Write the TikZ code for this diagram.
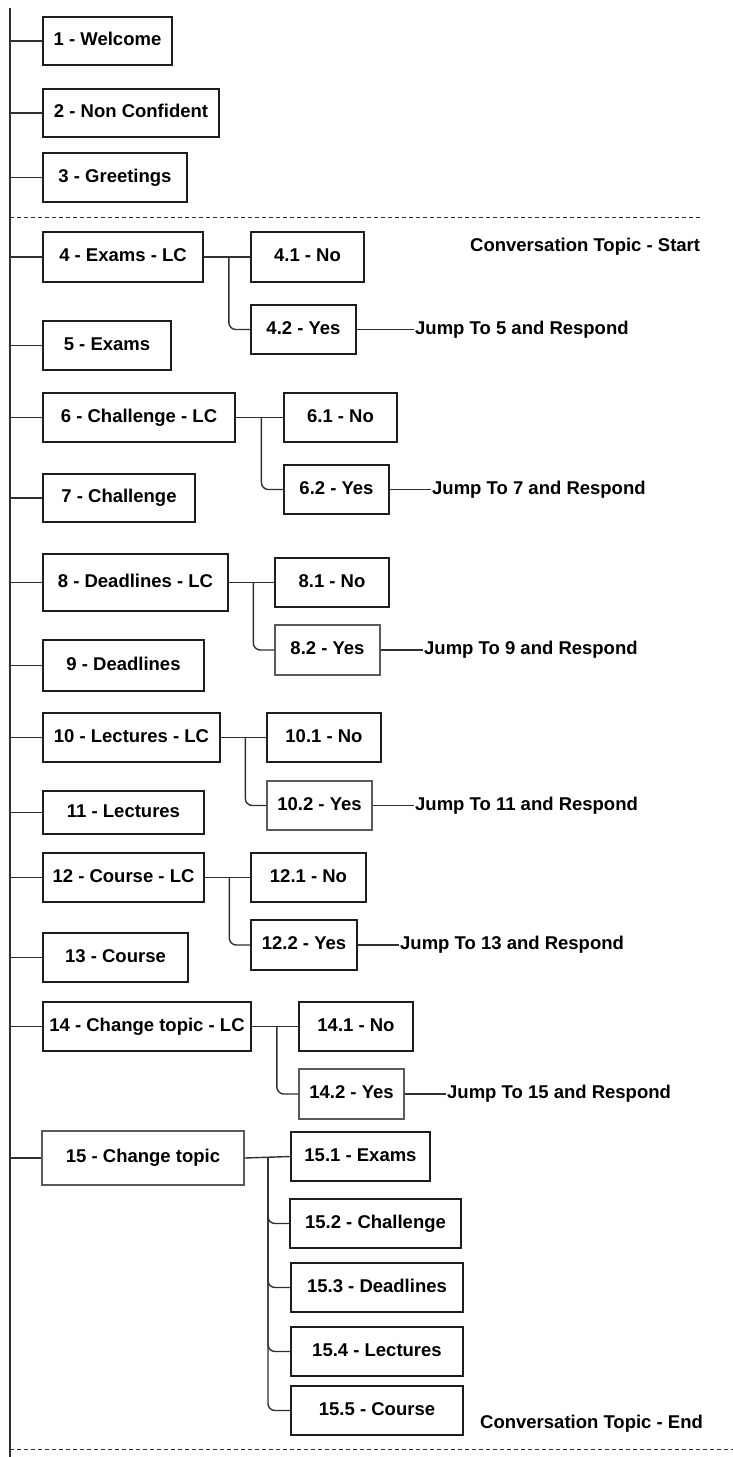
\documentclass[tikz,border=0pt]{standalone}
\usepackage{fontspec}
\setmainfont{Liberation Sans}
\usetikzlibrary{calc}
\definecolor{boxline}{HTML}{1E1E1E}
\definecolor{softline}{HTML}{5A5A5A}
\definecolor{wireline}{HTML}{303030}
\newcommand\bx[7][box]{%
  \node[#1,minimum width={#5-#3},minimum height={#6-#4}] (#2) at ({(#3+#5)/2},{(#4+#6)/2}) {#7};}
\begin{document}
\begin{tikzpicture}[x=1pt,y=-1pt,
  labelfont/.style={font=\fontsize{18.5}{22}\selectfont\bfseries,text height=13pt,text depth=4pt},
  box/.style={draw=boxline,line width=1.5pt,inner sep=0pt,labelfont},
  softbox/.style={box,draw=softline},
  note/.style={inner sep=1pt,labelfont,anchor=west},
  wire/.style={draw=wireline,line width=1.4pt},
  branch/.style={wire,rounded corners=7pt},
  divider/.style={draw=wireline,line width=1pt,dash pattern=on 4pt off 3pt}]
\useasboundingbox (0,0) rectangle (733,1457);

% main spine
\coordinate (spinetop) at (10,8);
\coordinate (spinebot) at (10,1457);
\draw[wire] (spinetop) -- (spinebot);

% opening states
\bx{b1}{43}{17}{172}{65}{1 - Welcome}
\bx{b2}{43}{89}{219}{137}{2 - Non Confident}
\bx{b3}{43}{153}{187}{202}{3 - Greetings}

% topic section dividers
\coordinate (divA) at (700,217);
\coordinate (divB) at (733,1449);
\draw[divider] (divA -| spinetop) -- (divA);
\draw[divider] (divB -| spinetop) -- (divB);
\node[note] (topstart) at (469,247) {Conversation Topic - Start};
\node[note] (topend) at (479,1424) {Conversation Topic - End};

% topic states with their yes/no answers
\bx{b4}{43}{232}{203}{282}{4 - Exams - LC}
\bx{b41}{251}{232}{364}{282}{4.1 - No}
\bx{b42}{251}{305}{356}{354}{4.2 - Yes}
\bx{b5}{43}{321}{171}{370}{5 - Exams}

\bx{b6}{43}{393}{235}{442}{6 - Challenge - LC}
\bx{b61}{284}{393}{397}{442}{6.1 - No}
\bx{b62}{284}{465}{389}{514}{6.2 - Yes}
\bx{b7}{43}{474}{195}{522}{7 - Challenge}

\bx{b8}{43}{554}{228}{611}{8 - Deadlines - LC}
\bx{b81}{275}{558}{389}{607}{8.1 - No}
\bx[softbox]{b82}{275}{625}{380}{675}{8.2 - Yes}
\bx{b9}{43}{640}{204}{691}{9 - Deadlines}

\bx{b10}{43}{713}{220}{762}{10 - Lectures - LC}
\bx{b101}{267}{713}{381}{762}{10.1 - No}
\bx[softbox]{b102}{267}{781}{372}{830}{10.2 - Yes}
\bx{b11}{43}{791}{204}{834}{11 - Lectures}

\bx{b12}{43}{853}{204}{902}{12 - Course - LC}
\bx{b121}{251}{853}{366}{902}{12.1 - No}
\bx{b122}{251}{920}{357}{970}{12.2 - Yes}
\bx{b13}{43}{933}{188}{982}{13 - Course}

\bx{b14}{43}{1002}{251}{1051}{14 - Change topic - LC}
\bx{b141}{299}{1002}{413}{1051}{14.1 - No}
\bx[softbox]{b142}{299}{1069}{404}{1119}{14.2 - Yes}

\bx[softbox]{b15}{42}{1131}{244}{1185}{15 - Change topic}
\bx{b151}{291}{1132}{430}{1181}{15.1 - Exams}
\bx{b152}{290}{1199}{461}{1248}{15.2 - Challenge}
\bx{b153}{291}{1263}{463}{1312}{15.3 - Deadlines}
\bx{b154}{291}{1327}{463}{1376}{15.4 - Lectures}
\bx{b155}{291}{1386}{463}{1435}{15.5 - Course}

% jump notes after each "Yes"
\node[note] (j4n) at (414,329.5) {Jump To 5 and Respond};
\node[note] (j6n) at (431,489.5) {Jump To 7 and Respond};
\node[note] (j8n) at (423,650) {Jump To 9 and Respond};
\node[note] (j10n) at (414,805.5) {Jump To 11 and Respond};
\node[note] (j12n) at (399,945) {Jump To 13 and Respond};
\node[note] (j14n) at (446,1094) {Jump To 15 and Respond};

% spine connectors
\foreach \b in {b1,b2,b3,b4,b5,b6,b7,b8,b9,b10,b11,b12,b13,b14,b15}
  \draw[wire] (\b.west) -- (\b.west -| spinetop);

% yes/no branches
\foreach \p/\n/\y/\j in {b4/b41/b42/j4n,b6/b61/b62/j6n,b8/b81/b82/j8n,
                          b10/b101/b102/j10n,b12/b121/b122/j12n,b14/b141/b142/j14n}{
  \coordinate (\p-fork) at ($(\p.east)!0.54!(\n.west)$);
  \draw[wire] (\p.east) -- (\n.west);
  \draw[branch] (\p-fork) |- (\y.west);
  \draw[wire] (\y.east) -- (\j.west);
}

% topic change fan-out
\coordinate (b15-fork) at ($(b15.east)!0.51!(b151.west)$);
\draw[wire] (b15.east) -- (b151.west);
\foreach \c in {b152,b153,b154,b155}
  \draw[branch] (b15-fork) |- (\c.west);
\end{tikzpicture}
\end{document}
